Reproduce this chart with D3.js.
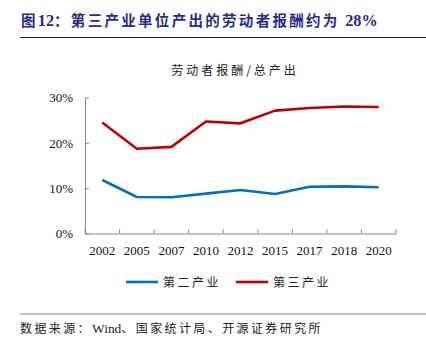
<!DOCTYPE html>
<html><head><meta charset="utf-8">
<script src="https://cdn.jsdelivr.net/npm/d3@7"></script>
<style>body{margin:0;background:#fff}</style>
</head><body>
<script>
const years = ["2002","2005","2007","2010","2012","2015","2017","2018","2020"];
const secondary = [11.8, 8.05, 8.0, 8.8, 9.6, 8.7, 10.3, 10.4, 10.2];
const tertiary = [24.5, 18.7, 19.1, 24.7, 24.3, 27.1, 27.7, 28.0, 27.9];
const yTicks = [0, 10, 20, 30];
const seriesNames = ["第二产业", "第三产业"];
const colors = ["#0070C0", "#C00000"];

const W = 426, H = 357;
const svg = d3.select("body").append("svg").attr("width", W).attr("height", H);
const cjk = "'Noto Sans CJK SC', sans-serif";
const serif = "'Liberation Serif', 'Times New Roman', serif";

function mixed(sel, parts, spacing) {
  parts.forEach(([txt, latin]) => {
    sel.append("tspan").attr("font-family", latin ? serif : cjk)
      .attr("letter-spacing", latin ? 0 : spacing)
      .attr("font-size", latin ? "1.12em" : null).text(txt);
  });
}

const title = svg.append("text").attr("x", 21).attr("y", 26)
  .attr("font-weight", "bold").attr("font-size", 14.5).attr("fill", "#1F2D86");
mixed(title, [["图", false], ["12", true], ["：第三产业单位产出的劳动者报酬约为 ", false], ["28%", true]], 2.3);
svg.append("line").attr("x1", 20).attr("x2", 426).attr("y1", 37.5).attr("y2", 37.5)
  .attr("stroke", "#222").attr("stroke-width", 1);

svg.append("text").attr("x", 235).attr("y", 75).attr("text-anchor", "middle")
  .attr("font-family", cjk).attr("font-size", 12).attr("letter-spacing", 3).attr("fill", "#222").text("劳动者报酬/总产出");

const x = d3.scaleBand().domain(years).range([85, 396]);
const y = d3.scaleLinear().domain([0, 30]).range([233.5, 97.5]);

const axisColor = "#888";
const gx = svg.append("g").attr("transform", "translate(0,233.5)")
  .call(d3.axisBottom(x).tickSizeInner(0).tickSizeOuter(0));
gx.select(".domain").attr("stroke", axisColor);
gx.selectAll("text").attr("font-family", serif).attr("font-size", 13).attr("fill", "#111").attr("dy", "1.4em");
const bounds = years.map(d => x(d)).concat([x(years[years.length-1]) + x.bandwidth()]);
svg.append("g").selectAll("line").data(bounds).join("line")
  .attr("x1", d => d).attr("x2", d => d).attr("y1", 233.5).attr("y2", 229.5)
  .attr("stroke", axisColor);

const gy = svg.append("g").attr("transform", "translate(85,0)")
  .call(d3.axisLeft(y).tickValues(yTicks).tickFormat(d => d + "%").tickSizeInner(-4).tickSizeOuter(0).tickPadding(12));
gy.select(".domain").attr("stroke", axisColor);
gy.selectAll(".tick line").attr("stroke", axisColor);
gy.selectAll("text").attr("font-family", serif).attr("font-size", 13).attr("fill", "#111");

const line = d3.line().x((d, i) => x(years[i]) + x.bandwidth() / 2).y(d => y(d));
[secondary, tertiary].forEach((s, i) => {
  svg.append("path").datum(s).attr("d", line).attr("fill", "none")
    .attr("stroke", colors[i]).attr("stroke-width", 2.6).attr("stroke-linejoin", "round");
});

const legX = [126, 236];
seriesNames.forEach((n, i) => {
  svg.append("line").attr("x1", legX[i]).attr("x2", legX[i] + 32).attr("y1", 282).attr("y2", 282)
    .attr("stroke", colors[i]).attr("stroke-width", 2.6);
  svg.append("text").attr("x", legX[i] + 37).attr("y", 286.5)
    .attr("font-family", cjk).attr("font-size", 12).attr("letter-spacing", 2.5).attr("fill", "#222").text(n);
});

svg.append("line").attr("x1", 20).attr("x2", 426).attr("y1", 314).attr("y2", 314)
  .attr("stroke", "#888").attr("stroke-width", 1);
const src = svg.append("text").attr("x", 20).attr("y", 333)
  .attr("font-size", 12).attr("fill", "#222");
mixed(src, [["数据来源：", false], ["Wind", true], ["、国家统计局、开源证券研究所", false]], 2.4);
</script>
</body></html>
